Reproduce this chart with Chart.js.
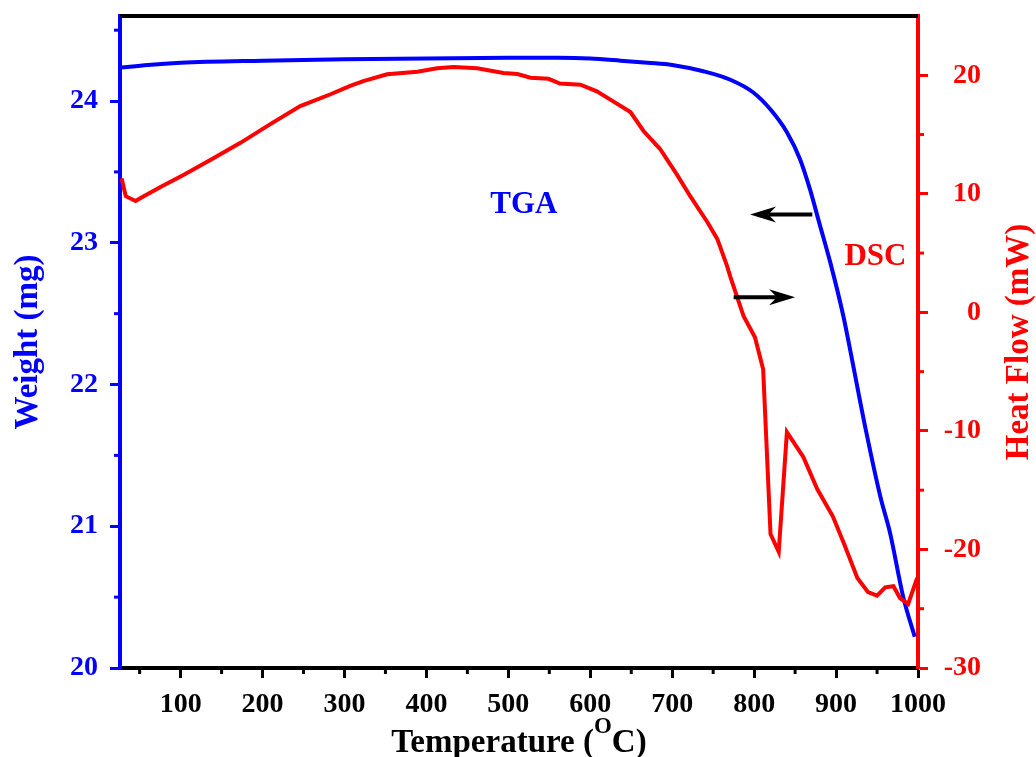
<!DOCTYPE html>
<html>
<head>
    <title>TGA / DSC</title>
    <script src="https://cdn.jsdelivr.net/npm/chart.js"></script>
    <style>
        body {
            margin: 0;
            background-color: #fff;
        }

        #wrap {
            width: 1036px;
            height: 757px;
        }
    </style>
</head>
<body>
<div id="wrap"><canvas id="thermo" width="1036" height="757"></canvas></div>

<script>
    // TGA: sample weight (mg) against temperature (°C)
    const tgaTemp   = [27, 60, 100, 200, 300, 400, 500, 560, 600, 637, 670, 700, 738, 771, 799, 820, 840, 856, 868, 880, 893, 909, 917, 937, 954, 966, 982, 996];
    const tgaWeight = [24.236, 24.255, 24.27, 24.285, 24.295, 24.30, 24.305, 24.305, 24.30, 24.285, 24.27, 24.255, 24.21, 24.15, 24.06, 23.94, 23.78, 23.59, 23.38, 23.13, 22.86, 22.48, 22.25, 21.66, 21.21, 20.95, 20.50, 20.22];

    // DSC: heat flow (mW) against temperature (°C)
    const dscTemp = [28, 33, 45, 55, 76, 104, 140, 173, 210, 246, 283, 307, 323, 352, 389, 413, 433, 462, 494, 511, 527, 549, 563, 588, 608, 628, 649, 665, 685, 706, 722, 743, 755, 767, 771, 787, 801, 811, 820, 830, 840, 860, 877, 896, 909, 926, 939, 950, 960, 970, 978, 988, 999];
    const dscHeat = [11.3, 9.8, 9.4, 9.8, 10.6, 11.6, 13.0, 14.3, 15.9, 17.4, 18.4, 19.1, 19.5, 20.08, 20.3, 20.6, 20.7, 20.6, 20.2, 20.1, 19.8, 19.7, 19.3, 19.2, 18.65, 17.8, 16.9, 15.3, 13.8, 11.6, 9.8, 7.6, 6.2, 3.9, 3.0, -0.3, -2.1, -4.8, -18.7, -20.2, -10.1, -12.2, -14.9, -17.2, -19.4, -22.4, -23.6, -23.9, -23.2, -23.1, -24.1, -24.6, -22.4];

    // axis ticks
    const tempTicks   = [100, 200, 300, 400, 500, 600, 700, 800, 900, 1000];
    const tempMinor   = [50, 150, 250, 350, 450, 550, 650, 750, 850, 950];
    const weightTicks = [20, 21, 22, 23, 24];
    const weightMinor = [20.5, 21.5, 22.5, 23.5, 24.5];
    const heatTicks   = [-30, -20, -10, 0, 10, 20];
    const heatMinor   = [-25, -15, -5, 5, 15];

    // curve labels and the arrows pointing each curve to its axis
    const noteText  = ['TGA', 'DSC'];
    const noteTemp  = [519, 948];
    const noteValue = [23.27, 4.7];
    const noteAxis  = ['yW', 'yH'];
    const noteColor = ['#0000ff', '#ff0000'];

    const arrowFrom  = [871, 775];
    const arrowTo    = [795, 850];
    const arrowValue = [23.2, 1.27];
    const arrowAxis  = ['yW', 'yH'];

    const FONT = '"Liberation Serif", "Times New Roman", serif';
    Chart.defaults.font.family = FONT;
    Chart.defaults.font.weight = 'bold';

    const fixedTicks = values => scale => {
        scale.ticks = values.map(v => ({ value: v }));
    };

    function drawArrow(ctx, x0, x1, y) {
        const dir = Math.sign(x1 - x0);
        const head = 26, half = 8;
        ctx.strokeStyle = '#000';
        ctx.fillStyle = '#000';
        ctx.lineWidth = 4;
        ctx.beginPath();
        ctx.moveTo(x0, y);
        ctx.lineTo(x1 - dir * head * 0.7, y);
        ctx.stroke();
        ctx.beginPath();
        ctx.moveTo(x1, y);
        ctx.lineTo(x1 - dir * head, y - half);
        ctx.lineTo(x1 - dir * head * 0.7, y);
        ctx.lineTo(x1 - dir * head, y + half);
        ctx.closePath();
        ctx.fill();
    }

    // minor ticks, top frame line, axis titles and annotations
    const decorations = {
        id: 'decorations',
        afterDraw(chart) {
            const ctx = chart.ctx;
            const area = chart.chartArea;
            const { x, yW, yH } = chart.scales;
            ctx.save();

            // top frame
            ctx.strokeStyle = '#000';
            ctx.lineWidth = 4;
            ctx.beginPath();
            ctx.moveTo(area.left, area.top);
            ctx.lineTo(area.right, area.top);
            ctx.stroke();

            // minor ticks
            ctx.lineWidth = 3;
            ctx.strokeStyle = '#000';
            tempMinor.forEach(v => {
                const px = x.getPixelForValue(v);
                ctx.beginPath();
                ctx.moveTo(px, area.bottom);
                ctx.lineTo(px, area.bottom + 6);
                ctx.stroke();
            });
            ctx.strokeStyle = '#0000ff';
            weightMinor.forEach(v => {
                const py = yW.getPixelForValue(v);
                ctx.beginPath();
                ctx.moveTo(area.left, py);
                ctx.lineTo(area.left - 6, py);
                ctx.stroke();
            });
            ctx.strokeStyle = '#ff0000';
            heatMinor.forEach(v => {
                const py = yH.getPixelForValue(v);
                ctx.beginPath();
                ctx.moveTo(area.right, py);
                ctx.lineTo(area.right + 6, py);
                ctx.stroke();
            });

            // x title with superscript O
            const midX = (area.left + area.right) / 2;
            const big = 'bold 33px ' + FONT, small = 'bold 23px ' + FONT;
            ctx.font = big;
            const w1 = ctx.measureText('Temperature (').width;
            const w3 = ctx.measureText('C)').width;
            ctx.font = small;
            const w2 = ctx.measureText('O').width;
            let tx = midX - (w1 + w2 + w3) / 2;
            const base = 752;
            ctx.fillStyle = '#000';
            ctx.textAlign = 'left';
            ctx.textBaseline = 'alphabetic';
            ctx.font = big;
            ctx.fillText('Temperature (', tx, base);
            tx += w1;
            ctx.font = small;
            ctx.fillText('O', tx, base - 19);
            tx += w2;
            ctx.font = big;
            ctx.fillText('C)', tx, base);

            // y titles, both reading upwards
            const midY = (area.top + area.bottom) / 2;
            ctx.textAlign = 'center';
            [['Weight (mg)', 37, '#0000ff'], ['Heat Flow (mW)', 1028, '#ff0000']].forEach(([t, bx, c]) => {
                ctx.save();
                ctx.translate(bx, midY);
                ctx.rotate(-Math.PI / 2);
                ctx.fillStyle = c;
                ctx.font = big;
                ctx.fillText(t, 0, 0);
                ctx.restore();
            });

            // curve labels
            ctx.font = 'bold 31px ' + FONT;
            ctx.textBaseline = 'middle';
            noteText.forEach((t, i) => {
                ctx.fillStyle = noteColor[i];
                ctx.fillText(t, x.getPixelForValue(noteTemp[i]), chart.scales[noteAxis[i]].getPixelForValue(noteValue[i]));
            });

            // arrows
            arrowFrom.forEach((t, i) => {
                const py = chart.scales[arrowAxis[i]].getPixelForValue(arrowValue[i]);
                drawArrow(ctx, x.getPixelForValue(t), x.getPixelForValue(arrowTo[i]), py);
            });

            ctx.restore();
        }
    };

    new Chart(document.getElementById('thermo'), {
        type: 'line',
        data: {
            datasets: [{
                label: 'DSC',
                data: dscTemp.map((t, i) => ({ x: t, y: dscHeat[i] })),
                yAxisID: 'yH',
                borderColor: '#ff0000',
                borderWidth: 4,
                pointRadius: 0,
                tension: 0
            }, {
                label: 'TGA',
                data: tgaTemp.map((t, i) => ({ x: t, y: tgaWeight[i] })),
                yAxisID: 'yW',
                borderColor: '#0000ff',
                borderWidth: 4,
                pointRadius: 0,
                cubicInterpolationMode: 'monotone'
            }]
        },
        options: {
            responsive: false,
            animation: false,
            // right padding leaves room for the rotated heat-flow title
            layout: { padding: { top: 16, left: 0, right: 55, bottom: 0 } },
            plugins: {
                legend: { display: false },
                tooltip: { enabled: false }
            },
            scales: {
                x: {
                    type: 'linear',
                    min: 26,
                    max: 1000,
                    afterBuildTicks: fixedTicks(tempTicks),
                    afterFit: s => { s.height = 89; s.paddingLeft = 0; s.paddingRight = 0; },
                    grid: { drawOnChartArea: false, tickLength: 10, tickWidth: 3, tickColor: '#000' },
                    border: { color: '#000', width: 4 },
                    ticks: { color: '#000', font: { size: 28 }, padding: 10, maxRotation: 0, callback: v => String(v) }
                },
                yW: {
                    type: 'linear',
                    position: 'left',
                    min: 20,
                    max: 24.6,
                    afterBuildTicks: fixedTicks(weightTicks),
                    afterFit: s => { s.width = 120; s.paddingTop = 0; s.paddingBottom = 0; },
                    grid: { drawOnChartArea: false, tickLength: 10, tickWidth: 3, tickColor: '#0000ff' },
                    border: { color: '#0000ff', width: 4 },
                    ticks: { color: '#0000ff', font: { size: 28 }, padding: 12, callback: v => String(v) }
                },
                yH: {
                    type: 'linear',
                    position: 'right',
                    min: -30,
                    max: 25,
                    afterBuildTicks: fixedTicks(heatTicks),
                    afterFit: s => { s.width = 63; s.paddingTop = 0; s.paddingBottom = 0; },
                    grid: { drawOnChartArea: false, tickLength: 10, tickWidth: 3, tickColor: '#ff0000' },
                    border: { color: '#ff0000', width: 4 },
                    ticks: { color: '#ff0000', font: { size: 28 }, padding: 15, crossAlign: 'far', callback: v => String(v) }
                }
            }
        },
        plugins: [decorations]
    });
</script>
</body>
</html>
